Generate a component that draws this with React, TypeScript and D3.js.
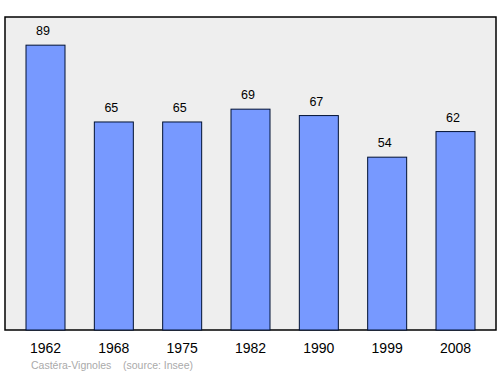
import React from "react";
import * as d3 from "d3";

const years = ["1962", "1968", "1975", "1982", "1990", "1999", "2008"];
const population = [89, 65, 65, 69, 67, 54, 62];
const sourceLabel = "Castéra-Vignoles    (source: Insee)";

export default function App() {
  const W = 500, H = 374;
  const plot = { left: 5, top: 17, right: 496, bottom: 330 };
  const x = d3.scalePoint<string>().domain(years).range([45.5, 455.5]);
  const y = d3.scaleLinear().domain([0, 97.8]).range([plot.bottom, plot.top]);
  const bw = 39;
  return (
    <svg width={W} height={H} style={{ position: "absolute", left: 0, top: 0 }} fontFamily="Liberation Sans, Arial, sans-serif">
      <rect x={plot.left} y={plot.top} width={plot.right - plot.left} height={plot.bottom - plot.top} fill="#eeeeee" stroke="#000" strokeWidth={1.5} />
      {years.map((yr, i) => {
        const cx = x(yr)!;
        const v = population[i];
        return (
          <g key={yr}>
            <rect x={cx - bw / 2} y={y(v)} width={bw} height={plot.bottom - y(v)} fill="#7799ff" stroke="#001133" strokeWidth={1} />
            <text x={cx - 2.5} y={y(v) - 10} textAnchor="middle" fontSize={12.5} fill="#000">{v}</text>
            <text x={cx} y={353} textAnchor="middle" fontSize={14} fill="#000">{yr}</text>
          </g>
        );
      })}
      <text x={31} y={369} fontSize={10.5} fill="#aaaaaa" style={{ whiteSpace: "pre" }}>{sourceLabel}</text>
    </svg>
  );
}
